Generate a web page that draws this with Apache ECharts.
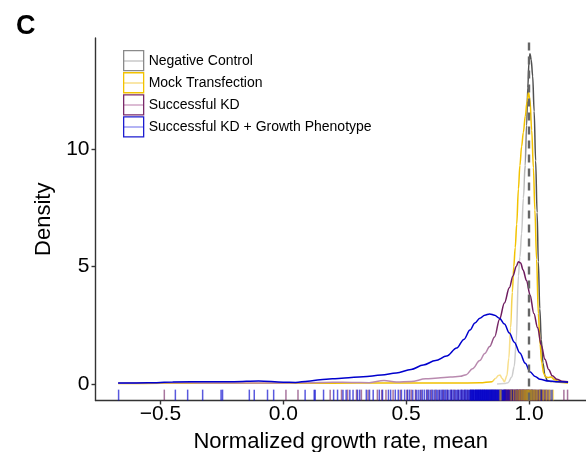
<!DOCTYPE html>
<html>
<head>
<meta charset="utf-8">
<script src="https://cdn.jsdelivr.net/npm/echarts@6/dist/echarts.min.js"></script>
<style>
  html, body { margin: 0; padding: 0; background: #ffffff; }
  #chart { width: 586px; height: 452px; }
</style>
</head>
<body>
<div id="chart"></div>
<script>
// Group names (legend order = drawing order)
const groupNames = [
  'Negative Control',
  'Mock Transfection',
  'Successful KD',
  'Successful KD + Growth Phenotype'
];

// Kernel density curves, one x/y pair of arrays per group
const negX = [0.87, 0.9, 0.915, 0.93, 0.94, 0.948, 0.957, 0.963, 0.97, 0.977, 0.984, 0.99, 0.995, 1.0, 1.004, 1.009, 1.015, 1.021, 1.027, 1.033, 1.038, 1.044, 1.05, 1.057, 1.065, 1.075, 1.09, 1.12, 1.159];
const negY = [0.0, 0.02, 0.06, 0.3, 0.75, 1.8, 4.6, 5.4, 6.4, 7.9, 9.3, 11.0, 12.6, 13.7, 14.05, 13.8, 13.1, 11.6, 9.5, 7.3, 5.2, 3.2, 1.9, 0.9, 0.35, 0.15, 0.1, 0.08, 0.05];

const mockX = [-0.672, -0.5, -0.3, -0.1, 0.1, 0.3, 0.5, 0.7, 0.8, 0.85, 0.865, 0.875, 0.882, 0.89, 0.9, 0.91, 0.918, 0.925, 0.932, 0.938, 0.944, 0.95, 0.957, 0.963, 0.97, 0.977, 0.985, 0.992, 0.998, 1.004, 1.011, 1.018, 1.024, 1.031, 1.038, 1.045, 1.052, 1.06, 1.068, 1.078, 1.09, 1.105, 1.125, 1.159];
const mockY = [0.02, 0.03, 0.03, 0.03, 0.03, 0.04, 0.04, 0.04, 0.05, 0.1, 0.25, 0.36, 0.38, 0.25, 0.1, 0.35, 1.1, 2.4, 3.9, 5.0, 5.8, 6.8, 8.3, 9.3, 10.1, 10.7, 11.4, 12.0, 12.4, 12.1, 10.8, 9.2, 7.4, 5.3, 3.0, 1.7, 0.9, 0.45, 0.3, 0.28, 0.3, 0.18, 0.08, 0.04];

const kdX = [-0.672, -0.55, -0.45, -0.3, -0.15, 0.0, 0.1, 0.2, 0.28, 0.35, 0.41, 0.46, 0.52, 0.58, 0.63, 0.68, 0.72, 0.745, 0.77, 0.8, 0.82, 0.84, 0.86, 0.88, 0.9, 0.92, 0.935, 0.948, 0.957, 0.966, 0.976, 0.99, 1.004, 1.02, 1.035, 1.05, 1.065, 1.08, 1.095, 1.113, 1.135, 1.159];
const kdY = [0.03, 0.05, 0.06, 0.04, 0.04, 0.04, 0.06, 0.08, 0.07, 0.06, 0.15, 0.09, 0.11, 0.22, 0.26, 0.3, 0.33, 0.4, 0.65, 1.0, 1.3, 1.6, 2.0, 2.75, 3.45, 4.1, 4.6, 5.0, 5.2, 5.15, 4.85, 4.4, 3.8, 3.0, 2.4, 1.65, 1.05, 0.62, 0.35, 0.2, 0.12, 0.1];

const growthX = [-0.672, -0.55, -0.45, -0.3, -0.2, -0.1, 0.0, 0.05, 0.1, 0.15, 0.2, 0.25, 0.325, 0.4, 0.46, 0.52, 0.57, 0.62, 0.665, 0.706, 0.735, 0.76, 0.78, 0.8, 0.82, 0.84, 0.86, 0.88, 0.9, 0.92, 0.94, 0.963, 0.985, 1.004, 1.025, 1.045, 1.08, 1.11, 1.159];
const growthY = [0.04, 0.05, 0.09, 0.1, 0.1, 0.13, 0.08, 0.07, 0.12, 0.18, 0.22, 0.26, 0.31, 0.38, 0.47, 0.62, 0.81, 1.0, 1.19, 1.53, 1.9, 2.3, 2.6, 2.8, 2.93, 2.98, 2.93, 2.8, 2.55, 2.17, 1.78, 1.32, 0.88, 0.52, 0.32, 0.2, 0.13, 0.1, 0.08];

// Individual observations shown as a rug along the bottom
const rugNeg = [0.932, 0.951, 0.962, 0.969, 0.975, 0.981, 0.986, 0.99, 0.994, 0.997, 1.0, 1.002, 1.005, 1.008, 1.011, 1.015, 1.019, 1.024, 1.029, 1.034, 1.04, 1.046, 1.053, 1.059, 1.066, 1.072, 1.079, 1.086, 1.093];
const rugMock = [0.882, 0.886, 0.927, 0.938, 0.947, 0.955, 0.962, 0.968, 0.974, 0.979, 0.984, 0.989, 0.993, 0.997, 1.001, 1.006, 1.011, 1.017, 1.024, 1.032, 1.043, 1.058, 1.071, 1.083, 1.099];
const rugKD = [-0.484, 0.011, 0.06, 0.191, 0.237, 0.262, 0.298, 0.318, 0.345, 0.383, 0.401, 0.418, 0.447, 0.476, 0.503, 0.521, 0.538, 0.561, 0.587, 0.603, 0.619, 0.634, 0.651, 0.667, 0.684, 0.697, 0.712, 0.726, 0.738, 0.751, 0.762, 0.773, 0.784, 0.793, 0.802, 0.81, 0.818, 0.826, 0.833, 0.84, 0.846, 0.852, 0.858, 0.863, 0.868, 0.873, 0.878, 0.882, 0.886, 0.89, 0.894, 0.898, 0.902, 0.905, 0.908, 0.911, 0.914, 0.917, 0.92, 0.923, 0.926, 0.929, 0.932, 0.935, 0.938, 0.941, 0.944, 0.947, 0.95, 0.953, 0.956, 0.959, 0.962, 0.965, 0.968, 0.971, 0.974, 0.977, 0.98, 0.983, 0.987, 0.991, 0.995, 0.999, 1.004, 1.009, 1.014, 1.02, 1.026, 1.032, 1.039, 1.046, 1.054, 1.063, 1.073, 1.085, 1.142, 1.157,
  0.9, 0.904, 0.907, 0.91, 0.913, 0.916, 0.919, 0.922, 0.925, 0.928, 0.931, 0.934, 0.937, 0.94, 0.943, 0.946, 0.949, 0.952, 0.955, 0.958, 0.961, 0.964, 0.967, 0.97, 0.973, 0.976, 0.979, 0.982, 0.985, 0.989, 0.993, 0.997, 1.001, 1.006, 1.011, 1.017, 1.023, 1.029, 1.036, 1.043, 1.05, 1.058, 1.067, 1.078];
const rugGrowth = [-0.67, -0.439, -0.389, -0.328, -0.253, -0.247, -0.138, -0.118, -0.064, -0.039, 0.089, 0.126, 0.13, 0.164, 0.205, 0.221, 0.243, 0.256, 0.271, 0.284, 0.302, 0.311, 0.338, 0.351, 0.366, 0.391, 0.404, 0.428, 0.437, 0.456, 0.468, 0.481, 0.494, 0.506, 0.514, 0.527, 0.541, 0.549, 0.557, 0.566, 0.574, 0.583, 0.591, 0.598, 0.607, 0.614, 0.623, 0.629, 0.637, 0.643, 0.649, 0.656, 0.661, 0.668, 0.674, 0.681, 0.686, 0.692, 0.699, 0.704, 0.71, 0.715, 0.721, 0.726, 0.731, 0.736, 0.741, 0.745, 0.75, 0.755, 0.759, 0.764, 0.768, 0.772, 0.776, 0.781, 0.785, 0.789, 0.793, 0.797, 0.801, 0.805, 0.809, 0.813, 0.817, 0.821, 0.825, 0.829, 0.833, 0.837, 0.842, 0.846, 0.85, 0.855, 0.859, 0.864, 0.869, 0.874, 0.879, 0.885, 0.891, 0.897, 0.904, 0.911, 0.918, 0.926, 0.934, 0.943, 0.953, 0.964, 0.976, 0.991, 1.012, 1.05, 1.094,
  0.762, 0.766, 0.77, 0.774, 0.779, 0.783, 0.787, 0.791, 0.795, 0.799, 0.803, 0.807, 0.811, 0.815, 0.819, 0.823, 0.827, 0.831, 0.835, 0.839, 0.844, 0.848, 0.852, 0.857, 0.862, 0.866, 0.871, 0.876, 0.882, 0.888, 0.894, 0.9];

// Axis ticks
const xTicks = [-0.5, 0.0, 0.5, 1.0];
const yTicks = [0, 5, 10];

const X_MIN = -0.764, X_MAX = 1.232;
const Y_MIN = -0.7, Y_MAX = 14.72;
const FONT = '"Liberation Sans", Arial, Helvetica, sans-serif';

// Horizontal colour ramp along a curve, stops given in data x units
function shade(xs, stops) {
  const x0 = xs[0], x1 = xs[xs.length - 1];
  return new echarts.graphic.LinearGradient(0, 0, 1, 0, stops.map(function (s) {
    return { offset: Math.min(1, Math.max(0, (s[0] - x0) / (x1 - x0))), color: s[1] };
  }));
}

// Legend key: white box with a faint line across the middle
function keyFill(c) {
  return new echarts.graphic.LinearGradient(0, 0, 0, 1, [
    { offset: 0, color: '#ffffff' }, { offset: 0.46, color: '#ffffff' },
    { offset: 0.46, color: c }, { offset: 0.54, color: c },
    { offset: 0.54, color: '#ffffff' }, { offset: 1, color: '#ffffff' }
  ]);
}

function pairs(xs, ys) { return xs.map(function (x, i) { return [x, ys[i]]; }); }

function densitySeries(name, xs, ys, color) {
  return {
    name: name, type: 'line', data: pairs(xs, ys),
    showSymbol: false, symbol: 'none', smooth: 0.35, smoothMonotone: 'x',
    lineStyle: { color: color, width: 1.5 }, itemStyle: { color: '#000' },
    silent: true, z: 3
  };
}

function rugSeries(values, color) {
  return {
    type: 'custom', silent: true, z: 4,
    data: values.map(function (v) { return [v, Y_MIN]; }),
    encode: { x: 0, y: 1 },
    renderItem: function (params, api) {
      const p0 = api.coord([api.value(0), Y_MIN]);
      const p1 = api.coord([api.value(0), Y_MIN + (Y_MAX - Y_MIN) * 0.03]);
      return {
        type: 'line',
        shape: { x1: p0[0], y1: p0[1], x2: p0[0], y2: p1[1] },
        style: { stroke: color, lineWidth: 1.5 }
      };
    }
  };
}

const chart = echarts.init(document.getElementById('chart'), null, { renderer: 'canvas' });

const legendBorder = ['#8a8a8a', '#f2c200', '#7a2a6a', '#1c1cd0'];
const legendInner = ['#d6d6d6', '#f9e6a8', '#dcbcd4', '#b4b4f4'];

chart.setOption({
  animation: false,
  backgroundColor: '#ffffff',
  title: {
    text: 'C', left: 11, top: 8,
    textStyle: { fontFamily: FONT, fontSize: 27, fontWeight: 'bold', color: '#000' }
  },
  grid: { left: 95.5, right: 0, top: 38, bottom: 51.5, containLabel: false, outerBoundsMode: 'none' },
  legend: {
    orient: 'vertical', left: 123, top: 50, padding: 0,
    itemWidth: 20, itemHeight: 20, itemGap: 0.8,
    textStyle: { fontFamily: FONT, fontSize: 14, color: '#000' },
    selectedMode: false,
    data: groupNames.map(function (n, i) {
      return {
        name: n, icon: 'rect',
        itemStyle: { color: keyFill(legendInner[i]), borderColor: legendBorder[i], borderWidth: 1.3 }
      };
    })
  },
  xAxis: {
    type: 'value', min: X_MIN, max: X_MAX,
    name: 'Normalized growth rate, mean', nameLocation: 'middle', nameGap: 30,
    nameTextStyle: { fontFamily: FONT, fontSize: 22, color: '#000' },
    axisLine: { show: true, onZero: false, lineStyle: { color: '#333', width: 1.4 } },
    axisTick: { show: true, customValues: xTicks, length: 4, lineStyle: { color: '#333', width: 1.4 } },
    axisLabel: {
      customValues: xTicks, fontFamily: FONT, fontSize: 21, color: '#000', margin: 3,
      formatter: function (v) { return (v < 0 ? '\u2212' : '') + Math.abs(v).toFixed(1); }
    },
    splitLine: { show: false }
  },
  yAxis: {
    type: 'value', min: Y_MIN, max: Y_MAX,
    name: 'Density', nameLocation: 'middle', nameGap: 38, nameRotate: 90,
    nameTextStyle: { fontFamily: FONT, fontSize: 22, color: '#000' },
    axisLine: { show: true, onZero: false, lineStyle: { color: '#333', width: 1.4 } },
    axisTick: { show: true, customValues: yTicks, length: 4, lineStyle: { color: '#333', width: 1.4 } },
    axisLabel: {
      customValues: yTicks, fontFamily: FONT, fontSize: 21, color: '#000', margin: 6,
      formatter: function (v) { return String(v); }
    },
    splitLine: { show: false }
  },
  series: [
    densitySeries(groupNames[0], negX, negY,
      shade(negX, [[0.9, '#d2d2d2'], [0.982, '#c8c8c8'], [0.996, '#505050'], [1.07, '#505050'], [1.09, '#bdbdbd']])),
    densitySeries(groupNames[1], mockX, mockY,
      shade(mockX, [[0.84, '#f0c000'], [0.856, '#f8df8c'], [0.915, '#f8df8c'], [0.93, '#f2c200']])),
    densitySeries(groupNames[2], kdX, kdY,
      shade(kdX, [[0.82, '#b98aaf'], [0.87, '#6e1b5e']])),
    densitySeries(groupNames[3], growthX, growthY, '#0000cd'),
    rugSeries(rugKD, 'rgba(110,27,94,0.6)'),
    rugSeries(rugGrowth, 'rgba(0,0,205,0.65)'),
    rugSeries(rugNeg, 'rgba(70,70,70,0.4)'),
    rugSeries(rugMock, 'rgba(240,190,0,0.5)'),
    {
      type: 'line', data: [], silent: true, z: 10,
      markLine: {
        silent: true, symbol: ['none', 'none'], label: { show: false },
        lineStyle: { color: '#666666', type: [8, 6], width: 2.4 },
        data: [{ xAxis: 1.0 }]
      }
    }
  ]
});
</script>
</body>
</html>
